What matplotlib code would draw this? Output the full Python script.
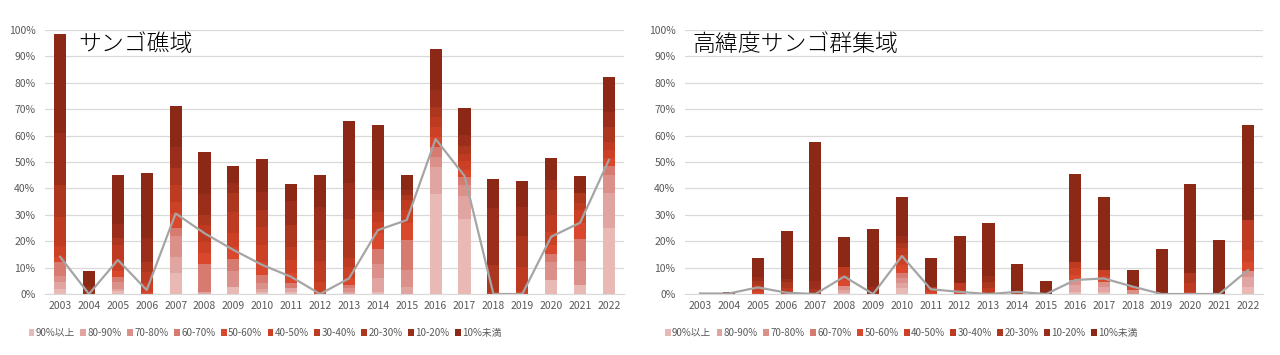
import numpy as np
import matplotlib
matplotlib.use('Agg')
import matplotlib.pyplot as plt
from matplotlib.ticker import PercentFormatter

plt.rcParams['font.family'] = ['Noto Sans CJK JP', 'DejaVu Sans']

years = [str(y) for y in range(2003, 2023)]
categories = ['90%以上', '80-90%', '70-80%', '60-70%', '50-60%',
              '40-50%', '30-40%', '20-30%', '10-20%', '10%未満']
colors = ['#E8B9B5', '#E1A5A1', '#DB908A', '#D77A70', '#D9472C',
          '#CC4126', '#BE3B22', '#AD361F', '#9A2E1B', '#8B2816']

# rows = years, columns = categories (percent of sites)
reef = [
  [1.8, 2.7, 2.3, 5.2, 2.1, 4.2, 11.0, 12.0, 19.6, 37.5],
  [0, 0, 0, 0, 0, 0, 0, 0, 2.5, 6.2],
  [1.0, 1.0, 2.7, 1.9, 2.0, 4.3, 5.5, 3.0, 5.2, 18.4],
  [0, 0, 0, 0, 0.8, 3.2, 4.3, 4.0, 9.0, 24.5],
  [7.8, 6.3, 7.9, 2.9, 5.6, 4.5, 6.3, 6.3, 8.2, 15.4],
  [0, 0.9, 0, 10.5, 4.0, 4.4, 6.2, 4.0, 8.0, 15.8],
  [2.8, 0, 6.0, 4.5, 4.6, 5.1, 8.2, 6.9, 4.0, 6.4],
  [0.9, 1.0, 2.1, 3.2, 5.0, 6.4, 6.9, 6.3, 7.0, 12.2],
  [0.9, 1.2, 0, 2.2, 3.5, 5.1, 5.0, 8.2, 9.3, 6.3],
  [0, 0, 0, 0, 0.5, 4.2, 7.9, 8.0, 12.5, 12.0],
  [0, 0.6, 1.5, 1.3, 2.5, 4.5, 3.1, 15.0, 13.4, 23.6],
  [0.6, 5.6, 5.2, 5.6, 6.2, 4.2, 3.8, 4.4, 3.8, 24.6],
  [0, 2.5, 6.6, 11.4, 6.5, 4.8, 3.8, 1.9, 2.0, 5.6],
  [37.9, 10.1, 4.0, 3.6, 3.7, 3.8, 4.1, 3.8, 6.3, 15.4],
  [28.4, 8.7, 4.2, 2.9, 2.8, 3.5, 2.5, 3.1, 4.0, 10.2],
  [0, 0, 0, 0, 0, 0, 0.9, 10.1, 21.4, 11.2],
  [0, 0, 0, 0, 0, 1.3, 9.1, 11.6, 10.8, 10.0],
  [5.3, 0, 6.9, 3.0, 3.4, 5.0, 6.3, 9.5, 3.8, 8.2],
  [3.4, 0, 9.2, 8.1, 6.3, 4.8, 2.5, 3.8, 0, 6.6],
  [24.9, 13.2, 7.0, 3.4, 2.9, 3.1, 3.2, 5.7, 5.7, 13.1],
]
reef_line = [14.1, 0, 12.9, 1.5, 30.5, 23, 16.7, 11, 6.5, 0,
             5.9, 24.2, 28, 58.7, 44.7, 0, 0, 21.7, 27, 50.8]

hilat = [
  [0, 0, 0, 0, 0, 0, 0, 0, 0, 0],
  [0, 0, 0, 0, 0, 0, 0, 0, 0, 0.6],
  [0, 0, 0, 0, 0.9, 1.2, 1.5, 1.5, 1.5, 7.0],
  [0, 0, 0, 0, 0, 0.9, 1.5, 2.3, 1.0, 18.2],
  [0, 0, 0, 0, 0, 0, 0.5, 1.5, 2.9, 52.7],
  [0.3, 1.2, 1.5, 0, 2.3, 1.9, 3.2, 0, 0, 11.2],
  [0, 0, 0, 0, 0, 0, 0, 0, 2.8, 21.8],
  [2.1, 1.9, 1.9, 1.9, 3.0, 4.0, 2.5, 2.0, 2.7, 14.7],
  [0, 0, 0, 0, 0.6, 0.9, 1.3, 0, 0, 10.8],
  [0, 0, 0, 0, 0.5, 1.0, 2.5, 0, 0, 18.0],
  [0, 0, 0, 0, 0, 0.5, 1.6, 2.4, 2.4, 20.0],
  [0, 0, 0, 0, 0, 0, 0.6, 0, 0, 10.8],
  [0, 0, 0, 0, 0, 0, 0, 0, 0.5, 4.4],
  [0.9, 2.5, 1.9, 0, 1.9, 2.5, 2.5, 0, 0, 33.3],
  [0.6, 2.2, 1.9, 0, 2.1, 2.3, 0, 0, 0, 27.5],
  [0, 0, 1.5, 0, 1.3, 0, 0, 0, 0, 6.3],
  [0, 0, 0, 0, 0, 0, 0, 0, 0, 17.0],
  [0, 0, 0, 0, 0, 0.9, 3.1, 3.8, 0, 33.9],
  [0, 0, 0, 0, 0, 0, 0, 0, 0, 20.5],
  [2.8, 3.8, 2.2, 0, 3.4, 4.5, 11.3, 0, 0, 36.0],
]
hilat_line = [0.2, 0.2, 2.5, 0.5, 0, 6.6, 0, 14.4, 1.8, 0.8,
              0, 0.8, 0, 5.3, 5.9, 2.8, 0, 0, 0, 9.1]


def panel(ax, data, line, title, tx):
  data = np.array(data).T
  x = np.arange(len(years))
  bottom = np.zeros(len(years))
  for i, cat in enumerate(categories):
    ax.bar(x, data[i], 0.42, bottom=bottom, color=colors[i], label=cat, zorder=2)
    bottom += data[i]
  ax.plot(x, line, color='#A5A5A5', lw=1.6, zorder=3)
  ax.set_xlim(-0.52, len(years) - 0.48)
  ax.set_ylim(0, 100)
  ax.set_yticks(np.arange(0, 101, 10))
  ax.yaxis.set_major_formatter(PercentFormatter(decimals=0))
  ax.set_xticks(x)
  ax.set_xticklabels(years)
  ax.grid(axis='y', color='#D9D9D9', lw=0.9, zorder=0)
  for s in ['top', 'right', 'left']:
    ax.spines[s].set_visible(False)
  ax.spines['bottom'].set_color('#D9D9D9')
  ax.tick_params(length=0, labelsize=7.5, labelcolor='#595959')
  ax.tick_params(axis='y', pad=7)
  ax.tick_params(axis='x', pad=5)
  ax.text(tx, 0.945, title, transform=ax.transAxes, fontsize=16.5,
          va='center', ha='left', fontweight='light', color='#000000')


fig = plt.figure(figsize=(12.8, 3.55), dpi=100)
ax1 = fig.add_axes([0.0352, 0.1718, 0.4523, 0.7437])
ax2 = fig.add_axes([0.5352, 0.1718, 0.4516, 0.7437])
panel(ax1, reef, reef_line, 'サンゴ礁域', 0.057)
panel(ax2, hilat, hilat_line, '高緯度サンゴ群集域', 0.012)

for ax, cx in [(ax1, 0.207), (ax2, 0.704)]:
  ax.legend(loc='center', bbox_to_anchor=(cx, 0.062), bbox_transform=fig.transFigure,
            ncol=10, frameon=False, fontsize=7, handlelength=0.6, handleheight=0.6,
            handletextpad=0.15, columnspacing=0.55, labelcolor='#595959')

fig.savefig('out.png', dpi=100)
